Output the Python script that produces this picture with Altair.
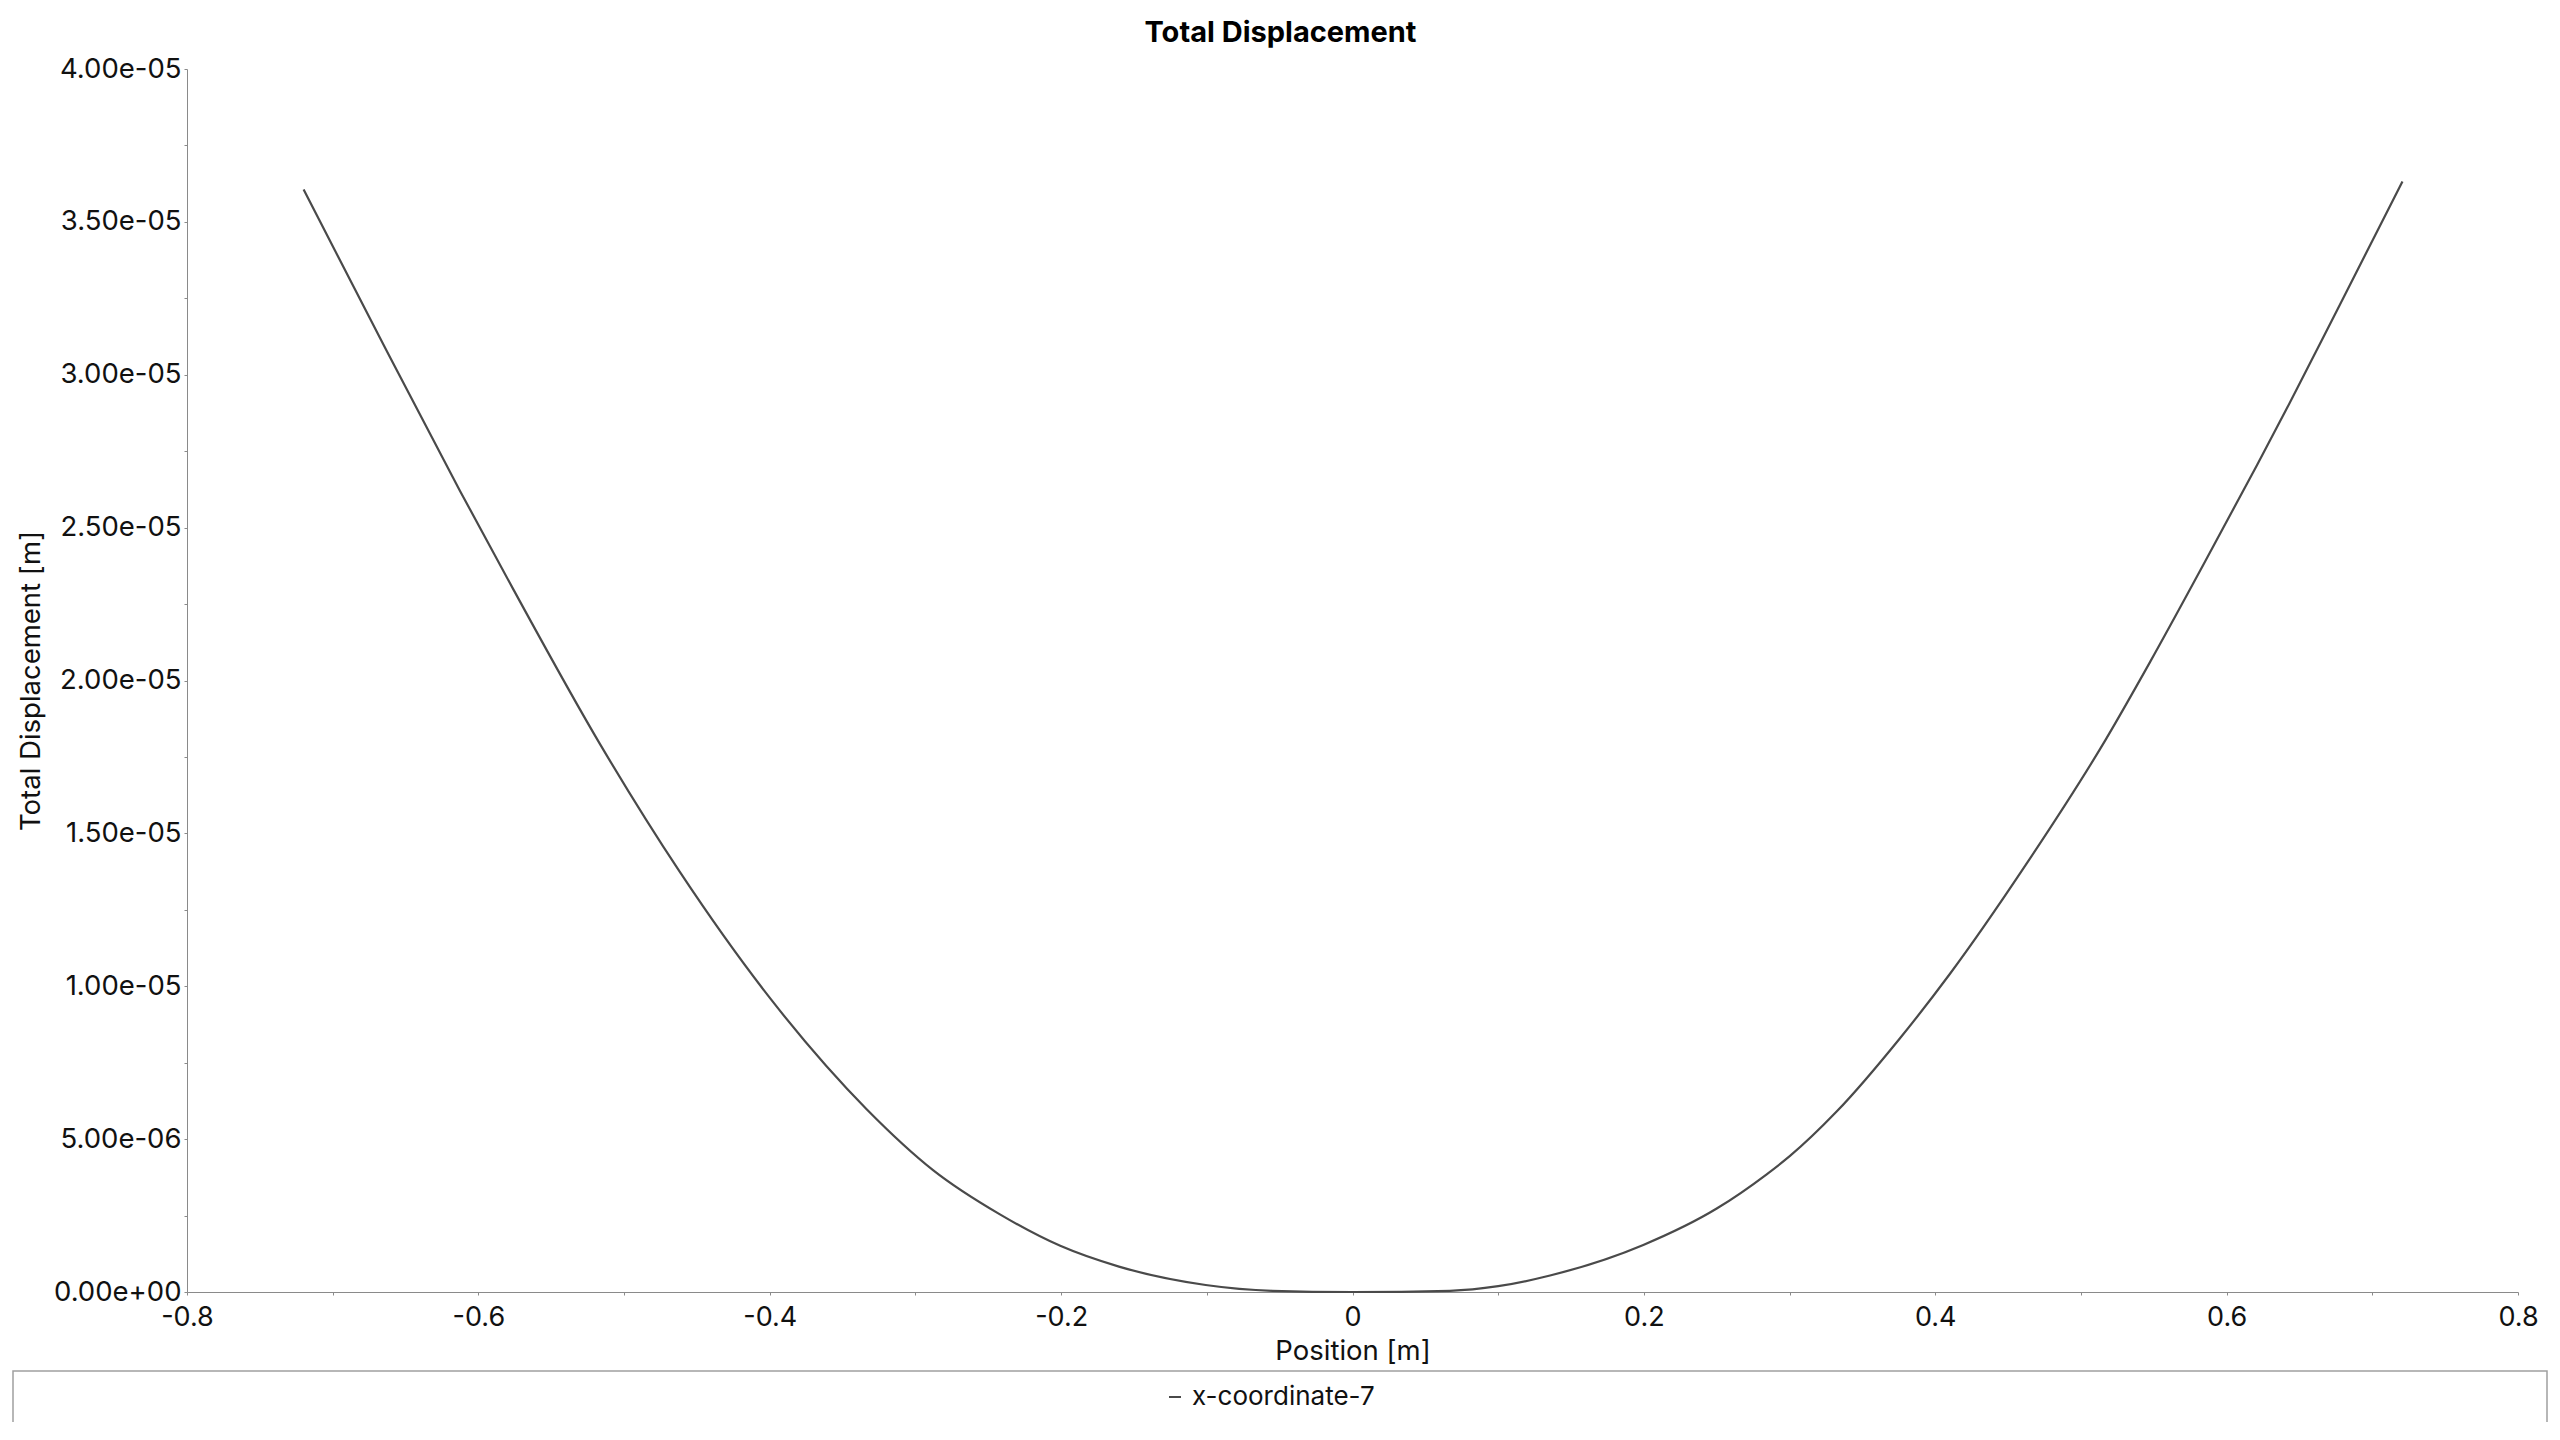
import altair as alt
import pandas as pd

series_name = "x-coordinate-7"

position_m = [
    -0.720, -0.6675, -0.6126, -0.576, -0.5165, -0.4616, -0.3998, -0.3335,
    -0.2877, -0.2420, -0.2006, -0.1603, -0.1008, -0.0553, 0.0, 0.0669,
    0.100, 0.1356, 0.1996, 0.250, 0.2843, 0.3003, 0.3323, 0.3758, 0.410,
    0.462, 0.5168, 0.5474, 0.5842, 0.6209, 0.643, 0.6773, 0.7207,
]
displacement_m = [
    3.606e-5, 3.120e-5, 2.620e-5, 2.298e-5, 1.792e-5, 1.373e-5, 0.961e-5, 0.598e-5,
    0.398e-5, 0.254e-5, 0.151e-5, 0.083e-5, 0.023e-5, 0.004e-5, 0.0, 0.004e-5,
    0.019e-5, 0.054e-5, 0.154e-5, 0.273e-5, 0.385e-5, 0.445e-5, 0.590e-5, 0.830e-5, 1.040e-5,
    1.396e-5, 1.805e-5, 2.060e-5, 2.380e-5, 2.705e-5, 2.905e-5, 3.225e-5, 3.632e-5,
]

x_tick_values = [-0.8, -0.7, -0.6, -0.5, -0.4, -0.3, -0.2, -0.1, 0.0,
                 0.1, 0.2, 0.3, 0.4, 0.5, 0.6, 0.7, 0.8]
y_tick_values = [0.0, 2.5e-6, 5e-6, 7.5e-6, 1e-5, 1.25e-5, 1.5e-5, 1.75e-5, 2e-5,
                 2.25e-5, 2.5e-5, 2.75e-5, 3e-5, 3.25e-5, 3.5e-5, 3.75e-5, 4e-5]

df = pd.DataFrame({
    "Position": position_m,
    "Displacement": displacement_m,
    "Series": [series_name] * len(position_m),
})

FONT = "Inter"
AXIS_GRAY = "#8a8a8a"

x_label_expr = ("abs(datum.value*5 - round(datum.value*5)) < 0.001 ? "
                "replace(format(datum.value, '.1~f'), '\u2212', '-') : ''")
y_label_expr = ("abs(datum.value/5e-6 - round(datum.value/5e-6)) < 0.001 ? "
                "replace(replace(format(datum.value, '.2e'), 'e-', 'e-0'), 'e+', 'e+0') : ''")

common_axis = dict(
    grid=False, domainColor=AXIS_GRAY, tickColor=AXIS_GRAY, tickSize=3,
    labelFont=FONT, labelColor="#111111", labelFlush=False,
    labelOverlap=False, titleFont=FONT, titleFontSize=27.5, titleFontWeight="normal",
    titleColor="#111111",
)

line = alt.Chart(df).mark_line(strokeWidth=2.2, interpolate="monotone").encode(
    x=alt.X(
        "Position:Q",
        title="Position [m]",
        scale=alt.Scale(domain=[-0.8, 0.8], nice=False, zero=False),
        axis=alt.Axis(values=x_tick_values, labelExpr=x_label_expr, labelFontSize=27,
                      labelPadding=9, titlePadding=7, **common_axis),
    ),
    y=alt.Y(
        "Displacement:Q",
        title="Total Displacement [m]",
        scale=alt.Scale(domain=[0, 4e-5], nice=False),
        axis=alt.Axis(values=y_tick_values, labelExpr=y_label_expr, labelFontSize=27.5,
                      labelPadding=3, titlePadding=8, **common_axis),
    ),
    color=alt.Color(
        "Series:N",
        scale=alt.Scale(range=["#4a4a4a"]),
        legend=alt.Legend(
            orient="none", legendX=975, legendY=1315, title=None,
            symbolType="stroke", symbolSize=144, symbolStrokeWidth=2,
            labelFont=FONT, labelFontSize=26, labelColor="#111111", labelLimit=600,
            padding=0,
        ),
    ),
)

legend_box = alt.Chart(alt.Data(values=[{}])).mark_rect(
    fill="white", fillOpacity=0, stroke="#a0a0a0", strokeWidth=1.5
).encode(
    x=alt.value(-174), x2=alt.value(2360), y=alt.value(1302), y2=alt.value(1358)
)

chart = alt.layer(legend_box, line).properties(
    width=2331,
    height=1223,
    background="white",
    title=alt.TitleParams(
        "Total Displacement", font=FONT, fontSize=29, fontWeight="bold",
        color="#000000", anchor="middle", dx=-72, offset=7,
    ),
    autosize=alt.AutoSizeParams(type="none"),
    padding={"left": 179, "top": 61, "right": 34, "bottom": 130},
).configure_view(stroke="transparent", strokeWidth=0)

chart.save("out.html", embed_options={"renderer": "svg", "actions": False})
